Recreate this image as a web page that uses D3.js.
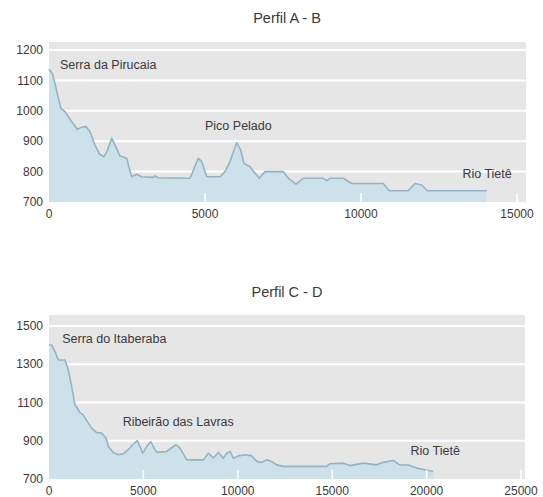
<!DOCTYPE html>
<html>
<head>
<meta charset="utf-8">
<script src="https://cdn.jsdelivr.net/npm/d3@7/dist/d3.min.js"></script>
<style>
  body { margin: 0; background: #fff; }
  svg { font-family: "Liberation Sans", Arial, sans-serif; }
</style>
</head>
<body>
<div id="chart"></div>
<script>
const width = 543;
const height = 497;

// Perfil A - B : distance (m) and altitude (m)
const abDist = [0, 106, 192, 300, 385, 513, 727, 908, 1047, 1186, 1314, 1474, 1613, 1763, 1868, 2009, 2115, 2276, 2404, 2490, 2543, 2650, 2810, 2971, 3343, 3397, 3500, 4519, 4786, 4893, 5054, 5481, 5641, 5801, 6015, 6144, 6250, 6442, 6741, 6923, 7510, 7671, 7917, 8151, 8792, 8900, 9006, 9433, 9701, 10715, 10907, 11516, 11731, 11945, 12125, 14028];
const abAlt = [1137, 1123, 1090, 1041, 1008, 997, 964, 939, 946, 948, 931, 887, 858, 849, 869, 910, 887, 851, 847, 844, 822, 783, 791, 783, 781, 786, 780, 778, 844, 833, 783, 783, 800, 833, 895, 871, 827, 816, 778, 800, 800, 778, 759, 778, 778, 770, 778, 778, 761, 761, 737, 737, 761, 756, 737, 737];
const abYTicks = [700, 800, 900, 1000, 1100, 1200];
const abXTicks = [0, 5000, 10000, 15000];
const abLabels = [
  { text: "Serra da Pirucaia", x: 350, y: 1152 },
  { text: "Pico Pelado", x: 5000, y: 952 },
  { text: "Rio Tietê", x: 13250, y: 792 }
];

// Perfil C - D
const cdDist = [0, 141, 318, 494, 847, 1024, 1201, 1377, 1500, 1642, 1819, 2030, 2260, 2525, 2790, 3019, 3142, 3407, 3672, 3937, 4200, 4433, 4677, 4820, 4963, 5175, 5387, 5561, 5737, 6234, 6584, 6727, 6938, 7293, 8174, 8439, 8703, 8968, 9233, 9410, 9587, 9764, 10029, 10381, 10734, 11000, 11264, 11529, 11794, 12059, 12412, 13471, 14707, 14883, 15588, 15943, 16648, 17354, 17707, 18237, 18590, 19032, 19474, 19915, 20356];
const cdAlt = [1401, 1401, 1366, 1322, 1322, 1270, 1183, 1088, 1070, 1047, 1035, 1000, 966, 943, 940, 914, 870, 839, 827, 832, 853, 879, 901, 870, 835, 870, 896, 861, 839, 844, 870, 879, 861, 800, 800, 835, 810, 839, 809, 835, 844, 809, 821, 827, 821, 792, 787, 800, 792, 774, 766, 766, 766, 780, 783, 770, 783, 774, 787, 797, 773, 773, 757, 748, 739];
const cdYTicks = [700, 900, 1100, 1300, 1500];
const cdXTicks = [0, 5000, 10000, 15000, 20000, 25000];
const cdLabels = [
  { text: "Serra do Itaberaba", x: 700, y: 1435 },
  { text: "Ribeirão das Lavras", x: 3900, y: 998 },
  { text: "Rio Tietê", x: 19150, y: 848 }
];

const svg = d3.select("#chart").append("svg")
  .attr("width", width)
  .attr("height", height);

function drawProfile(cfg) {
  var x = d3.scaleLinear().domain([0, cfg.xMax]).range([49, cfg.xRight]);
  var y = d3.scaleLinear().domain([cfg.yTicks[0], cfg.yTicks[cfg.yTicks.length - 1]]).range([cfg.bottom, cfg.topTick]);

  var g = svg.append("g");

  // gray plot background
  g.append("rect")
    .attr("x", 49)
    .attr("y", cfg.plotTop)
    .attr("width", cfg.plotRight - 49)
    .attr("height", cfg.bottom - cfg.plotTop)
    .attr("fill", "#e6e6e7");

  // horizontal gridlines
  g.selectAll(".grid")
    .data(cfg.yTicks.slice(1))
    .enter()
    .append("line")
    .attr("x1", 49)
    .attr("x2", cfg.plotRight)
    .attr("y1", d => y(d))
    .attr("y2", d => y(d))
    .attr("stroke", "#fff")
    .attr("stroke-width", 2);

  var data = cfg.dist.map((d, i) => [d, cfg.alt[i]]);

  var area = d3.area()
    .x(d => x(d[0]))
    .y0(y(cfg.yTicks[0]))
    .y1(d => y(d[1]));

  var line = d3.line()
    .x(d => x(d[0]))
    .y(d => y(d[1]));

  g.append("path")
    .datum(data)
    .attr("d", area)
    .attr("fill", "#cde1ea");

  g.append("path")
    .datum(data)
    .attr("d", line)
    .attr("fill", "none")
    .attr("stroke", "#92b4c4")
    .attr("stroke-width", 1.6)
    .attr("stroke-linejoin", "round");

  // small white ticks at the bottom
  g.selectAll(".xt")
    .data(cfg.xTicks.slice(1))
    .enter()
    .append("line")
    .attr("x1", d => x(d))
    .attr("x2", d => x(d))
    .attr("y1", cfg.bottom - 9)
    .attr("y2", cfg.bottom)
    .attr("stroke", "#fff")
    .attr("stroke-width", 1.5);

  // y tick labels
  g.selectAll(".yl")
    .data(cfg.yTicks)
    .enter()
    .append("text")
    .attr("x", 43)
    .attr("y", d => y(d))
    .attr("dy", "0.35em")
    .attr("text-anchor", "end")
    .style("font-size", "12px")
    .style("fill", "#3a3a3a")
    .text(d => d);

  // x tick labels
  g.selectAll(".xl")
    .data(cfg.xTicks)
    .enter()
    .append("text")
    .attr("x", d => x(d))
    .attr("y", cfg.bottom + 16)
    .attr("text-anchor", "middle")
    .style("font-size", "12px")
    .style("fill", "#3a3a3a")
    .text(d => d);

  // place names
  g.selectAll(".lab")
    .data(cfg.labels)
    .enter()
    .append("text")
    .attr("x", d => x(d.x))
    .attr("y", d => y(d.y))
    .attr("dy", "0.35em")
    .style("font-size", "12.5px")
    .style("fill", "#3a3a3a")
    .text(d => d.text);

  // title
  svg.append("text")
    .attr("x", 287)
    .attr("y", cfg.titleY)
    .attr("dy", "0.35em")
    .attr("text-anchor", "middle")
    .style("font-size", "14.5px")
    .style("fill", "#3a3a3a")
    .text(cfg.title);
}

drawProfile({
  title: "Perfil A - B", titleY: 18,
  dist: abDist, alt: abAlt, yTicks: abYTicks, xTicks: abXTicks, labels: abLabels,
  xMax: 15000, xRight: 517, plotRight: 526,
  plotTop: 42, topTick: 50, bottom: 202
});

drawProfile({
  title: "Perfil C - D", titleY: 292,
  dist: cdDist, alt: cdAlt, yTicks: cdYTicks, xTicks: cdXTicks, labels: cdLabels,
  xMax: 25000, xRight: 521, plotRight: 525,
  plotTop: 315, topTick: 326, bottom: 479
});
</script>
</body>
</html>
